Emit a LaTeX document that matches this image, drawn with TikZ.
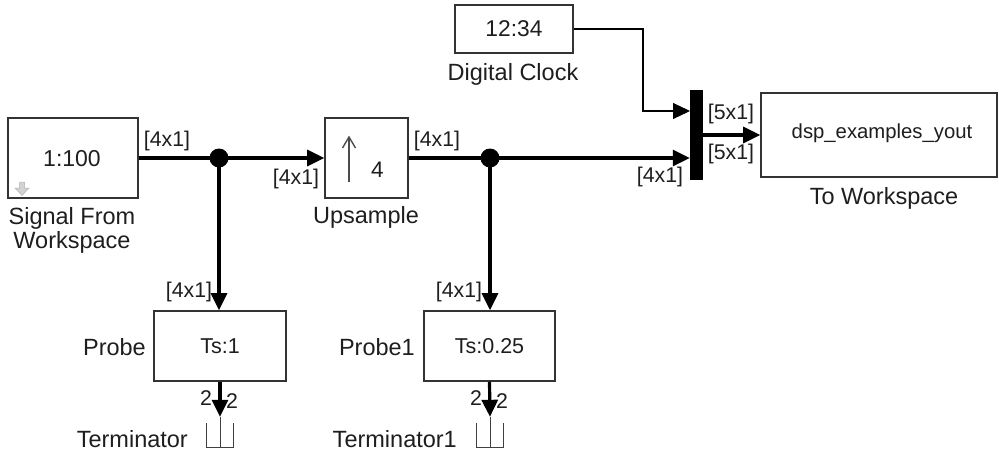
\documentclass[tikz,border=0pt]{standalone}
\usepackage{fontspec}
\setmainfont{Liberation Sans}
\usetikzlibrary{arrows.meta,calc}
\definecolor{txt}{HTML}{1E1E1E}
\definecolor{bord}{HTML}{333333}
\begin{document}
\begin{tikzpicture}[x=1pt,y=-1pt,
  blk/.style={draw=bord,line width=1.6pt,fill=white,inner sep=0pt,text=txt,
    font=\fontsize{22.8}{26}\selectfont},
  lbl/.style={text=txt,inner sep=0pt,font=\fontsize{23.5}{25}\selectfont,align=center},
  port/.style={text=txt,inner sep=0pt,font=\fontsize{21.3}{22}\selectfont},
  sig/.style={line width=3.2pt,black},
  arr/.style={-{Triangle[length=17pt,width=16pt]}},
  dot/.style={circle,fill=black,inner sep=0pt,minimum size=19pt},
  termsym/.style={inner sep=0pt,minimum width=26pt,minimum height=30pt}]
\useasboundingbox (0,0) rectangle (999,452);

% blocks
\node[blk,minimum width=130pt,minimum height=80pt] (sfw) at (73,158) {};
\node[text=txt,font=\fontsize{23}{26}\selectfont,inner sep=0pt] (sfwt) at (72,159) {1:100};
\filldraw[fill=gray!35,draw=gray!60,line width=0.5pt]
  (19.5,182) -- (24.5,182) -- (24.5,188) -- (29,188) -- (22,195.5) -- (15,188) -- (19.5,188) -- cycle;

\node[blk,minimum width=83pt,minimum height=80pt] (up) at (366.5,158) {};
\node[text=txt,font=\fontsize{22.5}{26}\selectfont,inner sep=0pt] (upt) at (377.5,170) {4};
\draw[line width=1.4pt,draw=black!70] (349,182) -- (349,137);
\draw[line width=1.4pt,draw=black!70] (342.5,148) -- (349,137) -- (355.5,148);

\node[blk,minimum width=118pt,minimum height=48pt] (clk) at (514,29) {12:34};
\node[blk,minimum width=132pt,minimum height=70pt,font=\fontsize{21.5}{24}\selectfont] (probe) at (220,346) {Ts:1};
\node[blk,minimum width=131pt,minimum height=70pt,font=\fontsize{21.5}{24}\selectfont] (probe1) at (489.5,346) {Ts:0.25};
\node[blk,minimum width=236pt,minimum height=84pt] (tw) at (879,135) {};
\node[text=txt,font=\fontsize{20.3}{24}\selectfont,inner sep=0pt] (twt) at (882,133) {dsp\_examples\_yout};
\node[fill=black,inner sep=0pt,minimum width=13pt,minimum height=90pt] (mux) at (696.5,135) {};

\node[termsym] (term) at (220,432) {};
\node[termsym] (term1) at (490,432) {};
\foreach \t in {term,term1}{
  \draw[line width=1pt,draw=black!75] ([yshift=-6pt]\t.north west) |- (\t.south east) -- ([yshift=-6pt]\t.north east);
  \draw[line width=1pt,draw=black!75] (\t.north) -- (\t.south);
}

% block labels
\node[lbl] (sfwl) at (72,230) {Signal From\\[-1pt]Workspace};
\node[lbl] (upl) at (366,217) {Upsample};
\node[lbl] (clkl) at (513,74) {Digital Clock};
\node[lbl] (twl) at (884,198) {To Workspace};
\node[lbl,anchor=east] (probel) at (146,347) {Probe};
\node[lbl,anchor=east] (probe1l) at (415,347) {Probe1};
\node[lbl,anchor=east] (terml) at (188,439) {Terminator};
\node[lbl,anchor=east] (term1l) at (457,439) {Terminator1};

% junctions
\node[dot] (j1) at (219,158) {};
\node[dot] (j2) at (490,158) {};
\coordinate (m1) at (690,111);
\coordinate (bend) at (643,29);

% signals
\draw[sig] (sfw.east) -- (j1.center);
\draw[sig,arr] (j1.center) -- (up.west);
\draw[sig,arr] (j1.center) -- (j1.center |- probe.north);
\draw[sig] (up.east) -- (j2.center);
\draw[sig,arr] (j2.center) -- (j2.center -| mux.west);
\draw[sig,arr] (j2.center) -- (j2.center |- probe1.north);
\draw[line width=1.1pt,black,arr] (clk.east) -- (bend) |- (m1);
\draw[sig,arr] (mux.east) -- (tw.west);
\draw[sig,arr] (probe.south) -- (term.north);
\draw[sig,arr] (probe1.south) -- (term1.north);

% port labels
\node[port] at (167,141) {[4x1]};
\node[port] at (296,179) {[4x1]};
\node[port] at (437,141) {[4x1]};
\node[port] at (660,177) {[4x1]};
\node[port] at (731,114) {[5x1]};
\node[port] at (731,154) {[5x1]};
\node[port] at (189,292) {[4x1]};
\node[port] at (459,292) {[4x1]};
\node[port] at (206,398) {2};
\node[port] at (232,401) {2};
\node[port] at (476,398) {2};
\node[port] at (502,401) {2};
\end{tikzpicture}
\end{document}
